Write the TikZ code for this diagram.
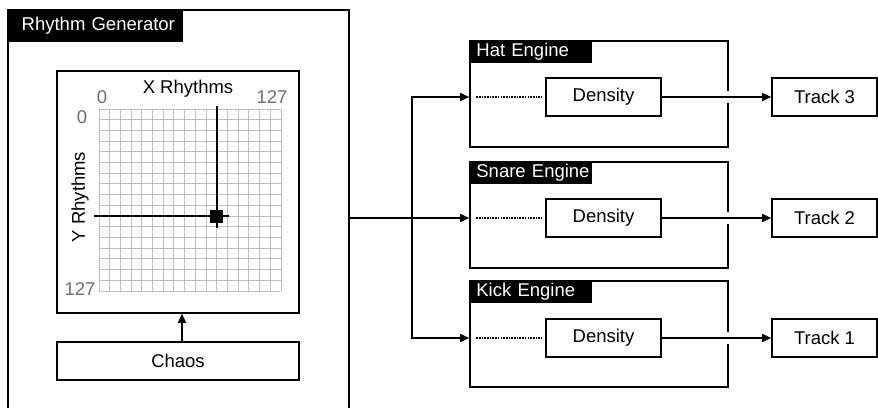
\documentclass[tikz,border=0pt]{standalone}
\usepackage{fontspec}
\setmainfont{Liberation Sans}
\usetikzlibrary{arrows.meta,calc}
\definecolor{gridc}{HTML}{BEBEBE}
\definecolor{numc}{HTML}{6E6E6E}
\tikzset{
  bx/.style={draw=black, line width=1.6pt, fill=white, inner sep=0pt},
  tab/.style={fill=black, text=white, anchor=north west, inner xsep=0pt, inner ysep=0pt, align=left},
  arr/.style={line width=1.6pt, -{Triangle[length=9pt,width=8pt]}},
  ln/.style={line width=1.6pt},
  dots/.style={line width=1.4pt, dash pattern=on 1.6pt off 1.1pt},
  lbl/.style={font=\fontsize{18.5}{20}\selectfont, inner sep=0pt},
  num/.style={font=\fontsize{18.5}{20}\selectfont, text=numc, inner sep=0pt}
}
\begin{document}
\begin{tikzpicture}[x=1pt,y=-1pt]
\useasboundingbox (0,0) rectangle (878,407);
% outer Rhythm Generator (bottom cut off)
\coordinate (rgsw) at (8,408);
\coordinate (rgnw) at (8,10);
\coordinate (rgne) at (349,10);
\coordinate (rgse) at (349,408);
\draw[ln] (rgsw) -- (rgnw) -- (rgne) -- (rgse);
\node[tab, minimum width=175pt, minimum height=32pt, text width=166pt, font=\fontsize{18.5}{20}\selectfont] (rgtab) at (rgnw) {\hspace*{9pt}Rhythm Generator};
% grid box
\node[bx, minimum width=242pt, minimum height=242pt] (gridbox) at (178,192) {};
\foreach \i in {0,...,17} {
  \draw[gridc, line width=0.9pt] ({99+\i*182/17},109) -- ({99+\i*182/17},291);
  \draw[gridc, line width=0.9pt] (99,{109+\i*182/17}) -- (281,{109+\i*182/17});
}
\node[lbl] (xr) at (188,89) {X Rhythms};
\node[lbl, rotate=90] (yr) at (80,197) {Y Rhythms};
\node[num] (x0) at (102,97) {0};
\node[num] (x127) at (272,97) {127};
\node[num] (y0) at (82,117) {0};
\node[num] (y127) at (80,289) {127};
\coordinate (vtop) at (216.5,106);
\coordinate (vbot) at (216.5,228);
\coordinate (hl) at (94,216);
\coordinate (hr) at (229,216);
\draw[line width=2pt] (vtop) -- (vbot);
\draw[line width=2pt] (hl) -- (hr);
\node[fill=black, minimum size=13pt, inner sep=0pt] (pt) at (216.5,216) {};
% chaos
\node[bx, minimum width=242pt, minimum height=38pt, lbl] (chaos) at (178,361) {Chaos};
\draw[arr] ([xshift=4pt]chaos.north) -- ([xshift=4pt]gridbox.south);
% engines
\foreach \nm/\cy/\dy/\title/\tr in {h/94/97/Hat Engine/Track 3, s/215/218/Snare Engine/Track 2, k/334/338/Kick Engine/Track 1} {
  \node[bx, minimum width=258pt, minimum height=106pt] (\nm eng) at (599,\cy) {};
  \node[tab, minimum width=123pt, minimum height=23pt, text width=123pt, font=\fontsize{18.5}{20}\selectfont] (\nm tab) at (\nm eng.north west) {\hspace*{7pt}\title};
  \node[bx, minimum width=115pt, minimum height=38pt, lbl] (\nm den) at (603.5,\dy) {Density};
  \node[bx, minimum width=105pt, minimum height=38pt, lbl] (\nm trk) at (824.5,\dy) {\tr};
  \draw[dots] ([xshift=7pt]\nm eng.west |- \nm den.west) -- ([xshift=-4pt]\nm den.west);
  \coordinate (\nm x) at (\nm eng.east |- \nm den.east);
  \fill[white] ($(\nm x)+(-1.5,-6)$) rectangle ($(\nm x)+(1.5,6)$);
  \draw[arr] (\nm den.east) -- (\nm trk.west);
}
% distribution
\coordinate (bus) at (412,218);
\draw[arr] (rgse |- sden.west) -- (seng.west |- sden.west);
\draw[arr] (bus) |- (heng.west |- hden.west);
\draw[arr] (bus) |- (keng.west |- kden.west);
\end{tikzpicture}
\end{document}
